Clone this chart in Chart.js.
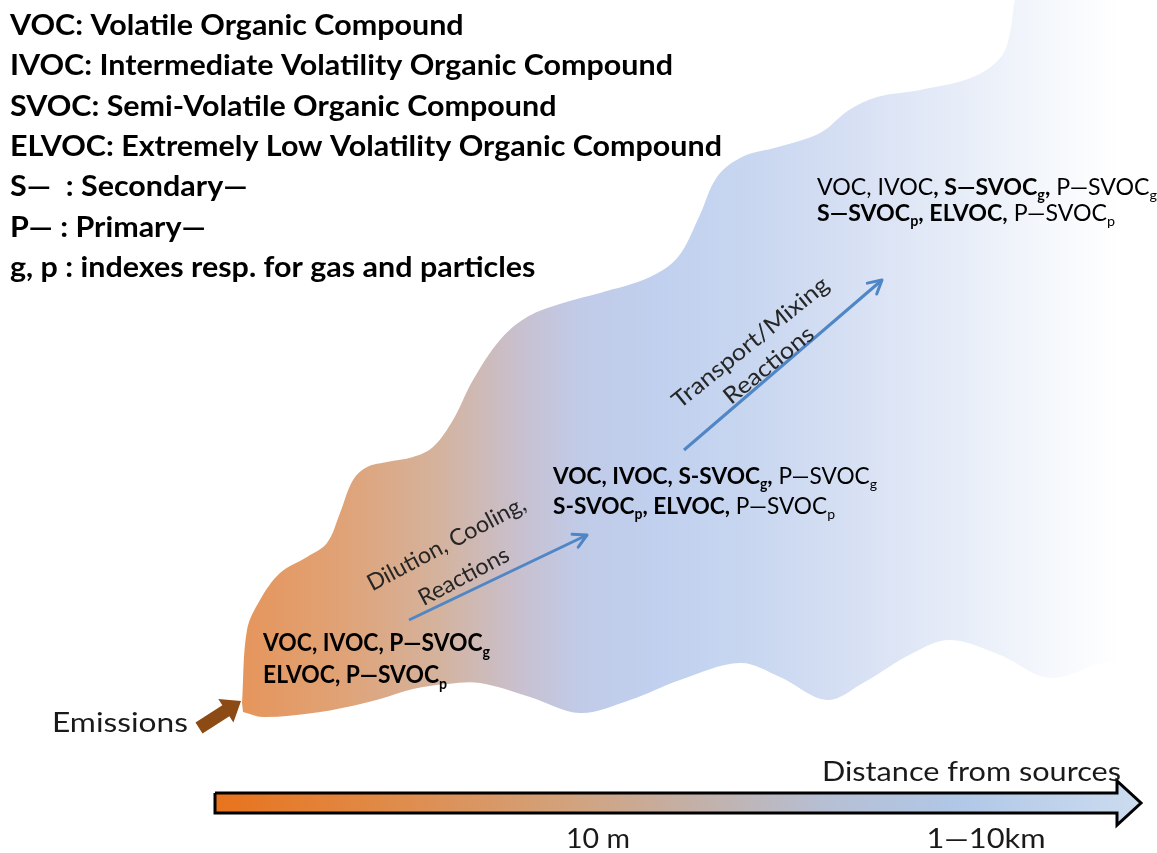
<!DOCTYPE html>
<html>
<head>
<meta charset="utf-8">
<title>Organic compounds along the plume</title>
<script src="https://cdn.jsdelivr.net/npm/chart.js@4.4.0/dist/chart.umd.min.js"></script>
<style>
  html, body { margin: 0; padding: 0; background: #fff; }
  #wrap { width: 1157px; height: 853px; }
</style>
</head>
<body>
<div id="wrap"><canvas id="plume" width="1157" height="853"></canvas></div>
<script>
// all coordinates: x from the left, y from the top
const plumeUpperX = [242, 247, 260, 280, 307, 327, 340, 353, 367, 387, 413, 433, 453, 473, 500, 527, 563, 600, 650, 678, 699, 717, 742, 778, 820, 849, 877, 920, 973, 1001, 1010, 1015, 1025, 1180];
const plumeUpperY = [703, 630, 600, 573, 557, 543, 513, 480, 467, 462, 457, 447, 420, 380, 340, 317, 303, 293, 277, 257, 217, 177, 157, 147, 133, 110, 97, 90, 77, 57, 33, 0, -30, -30];
const plumeLowerX = [1180, 1102, 1050, 1000, 950, 913, 863, 827, 780, 740, 680, 630, 580, 530, 480, 447, 413, 380, 347, 313, 263, 243];
const plumeLowerY = [650, 663, 678, 655, 640, 653, 683, 700, 677, 663, 680, 700, 713, 697, 683, 684, 689, 699, 707, 713, 717, 712];

const dilutionArrow = [[409, 620], [587, 535]];
const transportArrow = [[684, 450], [882, 280]];
const emissionArrow = [[199, 728], [241, 701]];

const axisArrowX = [215, 1117, 1117, 1141, 1117, 1117, 215, 215];
const axisArrowY = [793, 793, 781, 803, 825, 813, 813, 793];

const definitions = [
    "VOC: Volatile Organic Compound",
    "IVOC: Intermediate Volatility Organic Compound",
    "SVOC: Semi-Volatile Organic Compound",
    "ELVOC: Extremely Low Volatility Organic Compound",
    "S\u2014  : Secondary\u2014",
    "P\u2014 : Primary\u2014",
    "g, p : indexes resp. for gas and particles"
];
// * toggles bold, _{x} is a subscript
const sourceSpecies = ["VOC, IVOC, P\u2014SVOC_{g}", "ELVOC, P\u2014SVOC_{p}"];
const nearSpecies = ["*VOC, IVOC, S-SVOC_{g},* P\u2014SVOC_{g}", "*S-SVOC_{p}, ELVOC,* P\u2014SVOC_{p}"];
const farSpecies = ["VOC, IVOC*, S\u2014SVOC_{g},* P\u2014SVOC_{g}", "*S\u2014SVOC_{p}, ELVOC,* P\u2014SVOC_{p}"];
const dilutionLabel = ["Dilution, Cooling,", "Reactions"];
const transportLabel = ["Transport/Mixing", "Reactions"];
const emissionLabel = "Emissions";
const distanceTitle = "Distance from sources";
const distanceTicks = ["10 m", "1\u201410km"];
const distanceTickX = [598, 986];

const toPoints = (xs, ys) => xs.map((x, i) => ({x: x, y: ys[i]}));
const FONT = 'Lato, "Open Sans", sans-serif';

const textBlocks = [
    {lines: definitions, x: 10, y: 25, size: 28, lineHeight: 40.3, bold: true, fitLine: 3, fitWidth: 712},
    {lines: sourceSpecies, x: 263, y: 642, size: 25, lineHeight: 32, bold: true, fitLine: 0, fitWidth: 227},
    {lines: nearSpecies, x: 553, y: 476, size: 23, lineHeight: 30, fitLine: 1, fitWidth: 282},
    {lines: farSpecies, x: 817, y: 187, size: 23, lineHeight: 26, fitLine: 0, fitWidth: 340},
    {lines: dilutionLabel, x: 446, y: 543, size: 23, lineHeight: 37, angle: -28, align: "center", color: "#262626", fitLine: 0, fitWidth: 176},
    {lines: transportLabel, x: 750, y: 342, size: 23, lineHeight: 29, angle: -39, align: "center", color: "#262626", fitLine: 0, fitWidth: 194},
    {lines: [emissionLabel], x: 188, y: 722, size: 27, align: "right", color: "#1a1a1a", fitWidth: 136},
    {lines: [distanceTitle], x: 1121, y: 771, size: 27, align: "right", color: "#1a1a1a", fitWidth: 299},
    {lines: [distanceTicks[0]], x: distanceTickX[0], y: 838, size: 27, align: "center", color: "#1a1a1a", fitWidth: 64},
    {lines: [distanceTicks[1]], x: distanceTickX[1], y: 838, size: 27, align: "center", color: "#1a1a1a", fitWidth: 119}
];

function parseRuns(str, bold) {
    const runs = [];
    let b = bold, buf = "", i = 0;
    const push = (sub) => { if (buf) runs.push({t: buf, b: b, sub: sub}); buf = ""; };
    while (i < str.length) {
        const ch = str[i];
        if (ch === "*") { push(false); b = !b; i++; continue; }
        if (ch === "_" && str[i + 1] === "{") {
            push(false);
            const j = str.indexOf("}", i);
            buf = str.slice(i + 2, j);
            push(true);
            i = j + 1;
            continue;
        }
        buf += ch; i++;
    }
    push(false);
    return runs;
}

function fontFor(run, size) {
    const s = run.sub ? size * 0.62 : size;
    return (run.b ? "bold " : "") + s + "px " + FONT;
}

const textPlugin = {
    id: "diagramText",
    afterDatasetsDraw(chart) {
        const ctx = chart.ctx;
        const xs = chart.scales.x, ys = chart.scales.y;
        textBlocks.forEach(blk => {
            const lines = blk.lines.map(s => parseRuns(s, !!blk.bold));
            const widthOf = runs => runs.reduce((w, r) => {
                ctx.font = fontFor(r, blk.size);
                return w + ctx.measureText(r.t).width;
            }, 0);
            let sx = 1;
            if (blk.fitWidth) sx = blk.fitWidth / widthOf(lines[blk.fitLine || 0]);
            ctx.save();
            ctx.translate(xs.getPixelForValue(blk.x), ys.getPixelForValue(blk.y));
            ctx.rotate((blk.angle || 0) * Math.PI / 180);
            ctx.scale(sx, 1);
            ctx.fillStyle = blk.color || "#000";
            ctx.textBaseline = "alphabetic";
            ctx.textAlign = "left";
            lines.forEach((runs, i) => {
                const w = widthOf(runs);
                let x = blk.align === "center" ? -w / 2 : blk.align === "right" ? -w : 0;
                const base = i * (blk.lineHeight || 0) + 0.36 * blk.size;
                runs.forEach(r => {
                    ctx.font = fontFor(r, blk.size);
                    ctx.fillText(r.t, x, base + (r.sub ? 0.22 * blk.size : 0));
                    x += ctx.measureText(r.t).width;
                });
            });
            ctx.restore();
        });
    }
};

// arrow heads at the last point of flagged datasets
const arrowPlugin = {
    id: "arrowHeads",
    afterDatasetsDraw(chart) {
        const ctx = chart.ctx;
        chart.data.datasets.forEach((ds, i) => {
            if (!ds.arrowHead) return;
            const pts = chart.getDatasetMeta(i).data;
            const a = pts[0], b = pts[pts.length - 1];
            const ang = Math.atan2(b.y - a.y, b.x - a.x);
            ctx.save();
            if (ds.arrowHead === "open") {
                const L = 15, spread = 0.5;
                ctx.strokeStyle = ds.borderColor;
                ctx.lineWidth = ds.borderWidth;
                ctx.lineCap = "round";
                ctx.lineJoin = "round";
                ctx.beginPath();
                ctx.moveTo(b.x - L * Math.cos(ang - spread), b.y - L * Math.sin(ang - spread));
                ctx.lineTo(b.x, b.y);
                ctx.lineTo(b.x - L * Math.cos(ang + spread), b.y - L * Math.sin(ang + spread));
                ctx.stroke();
            } else {
                const len = Math.hypot(b.x - a.x, b.y - a.y);
                const head = 18, shaft = 6.5, wing = 14;
                ctx.translate(a.x, a.y);
                ctx.rotate(ang);
                ctx.fillStyle = ds.arrowColor;
                ctx.beginPath();
                ctx.moveTo(0, -shaft);
                ctx.lineTo(len - head, -shaft);
                ctx.lineTo(len - head, -wing);
                ctx.lineTo(len, 0);
                ctx.lineTo(len - head, wing);
                ctx.lineTo(len - head, shaft);
                ctx.lineTo(0, shaft);
                ctx.closePath();
                ctx.fill();
            }
            ctx.restore();
        });
    }
};

function horizontalGradient(chart, x0, x1, stops) {
    const xs = chart.scales.x;
    const g = chart.ctx.createLinearGradient(xs.getPixelForValue(x0), 0, xs.getPixelForValue(x1), 0);
    stops.forEach(s => g.addColorStop(s[0], s[1]));
    return g;
}

const plumeData = toPoints(plumeUpperX, plumeUpperY).concat(toPoints(plumeLowerX, plumeLowerY));
const axisData = toPoints(axisArrowX, axisArrowY);

new Chart(document.getElementById("plume").getContext("2d"), {
    type: "line",
    data: {
        datasets: [
            {
                label: "Dilution, Cooling, Reactions",
                data: toPoints(dilutionArrow.map(p => p[0]), dilutionArrow.map(p => p[1])),
                borderColor: "#4F86C6",
                borderWidth: 3,
                pointRadius: 0,
                fill: false,
                arrowHead: "open",
                order: 1
            },
            {
                label: "Transport/Mixing Reactions",
                data: toPoints(transportArrow.map(p => p[0]), transportArrow.map(p => p[1])),
                borderColor: "#4F86C6",
                borderWidth: 3,
                pointRadius: 0,
                fill: false,
                arrowHead: "open",
                order: 1
            },
            {
                label: "Emissions",
                data: toPoints(emissionArrow.map(p => p[0]), emissionArrow.map(p => p[1])),
                showLine: false,
                pointRadius: 0,
                arrowHead: "block",
                arrowColor: "#8C4A14",
                order: 1
            },
            {
                label: "Distance from sources",
                data: axisData,
                borderColor: "#000",
                borderWidth: 3,
                borderJoinStyle: "miter",
                pointRadius: 0,
                tension: 0,
                fill: "shape",
                backgroundColor: (c) => {
                    if (!c.chart.chartArea) return "#d0a080";
                    return horizontalGradient(c.chart, 215, 1141, [
                        [0, "#E8731C"], [0.2, "#DF8C4C"], [0.38, "#D2A27C"],
                        [0.52, "#C3B0A8"], [0.66, "#B6BFD4"], [0.8, "#B0C7E6"], [1, "#CCDCF0"]
                    ]);
                },
                order: 2
            },
            {
                label: "Plume",
                data: plumeData,
                borderWidth: 0,
                pointRadius: 0,
                tension: 0.35,
                fill: "shape",
                backgroundColor: (c) => {
                    if (!c.chart.chartArea) return "#c8d4ee";
                    return horizontalGradient(c.chart, 240, 1120, [
                        [0, "#E6955B"], [0.114, "#E0A276"], [0.227, "#D4B39E"],
                        [0.318, "#C8C0CF"], [0.386, "#C0CBE8"], [0.477, "#C0D0EE"],
                        [0.591, "#C9D7F0"], [0.705, "#D8E1F4"], [0.818, "#E7EDF8"],
                        [0.92, "#F5F8FC"], [1, "#FFFFFF"]
                    ]);
                },
                order: 10
            }
        ]
    },
    options: {
        responsive: false,
        maintainAspectRatio: false,
        devicePixelRatio: 1,
        animation: false,
        events: [],
        layout: { padding: 0 },
        scales: {
            x: { type: "linear", min: 0, max: 1157, display: false },
            y: { type: "linear", min: 0, max: 853, reverse: true, display: false }
        },
        plugins: {
            legend: { display: false },
            tooltip: { enabled: false }
        }
    },
    plugins: [arrowPlugin, textPlugin]
});
</script>
</body>
</html>
